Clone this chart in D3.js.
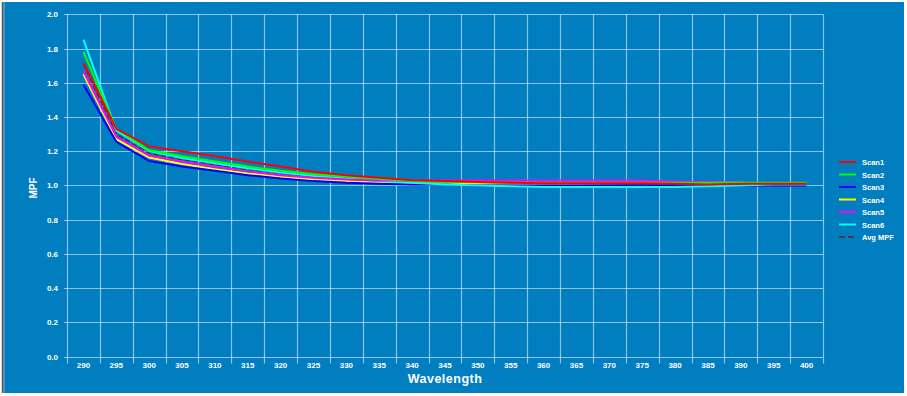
<!DOCTYPE html>
<html><head><meta charset="utf-8">
<script src="https://cdn.jsdelivr.net/npm/d3@7"></script>
<style>
html,body{margin:0;padding:0;background:#fff;}
svg{display:block;}
text{font-family:"Liberation Sans",Arial,sans-serif;font-weight:bold;fill:#fff;}
</style></head><body>
<svg id="c" width="907" height="396"></svg>
<script>
const wavelengths = [290,295,300,305,310,315,320,325,330,335,340,345,350,355,360,365,370,375,380,385,390,395,400];
const scan1 = [1.715,1.331,1.228,1.200,1.170,1.140,1.110,1.080,1.060,1.045,1.030,1.025,1.020,1.015,1.012,1.012,1.012,1.012,1.010,1.005,1.010,1.010,1.010];
const scan2 = [1.780,1.330,1.205,1.170,1.140,1.110,1.085,1.065,1.050,1.038,1.025,1.020,1.018,1.015,1.015,1.015,1.015,1.015,1.015,1.015,1.015,1.015,1.015];
const scan3 = [1.590,1.255,1.142,1.110,1.085,1.060,1.040,1.025,1.015,1.010,1.005,1.005,1.000,1.000,1.000,1.000,1.000,1.000,1.000,1.000,1.000,1.000,1.000];
const scan4 = [1.650,1.270,1.163,1.125,1.095,1.070,1.050,1.035,1.025,1.015,1.012,1.010,1.010,1.010,1.010,1.010,1.012,1.015,1.015,1.015,1.015,1.010,1.010];
const scan5 = [1.667,1.285,1.175,1.140,1.110,1.082,1.060,1.045,1.035,1.028,1.028,1.028,1.028,1.028,1.028,1.028,1.028,1.028,1.022,1.020,1.015,1.010,1.010];
const scan6 = [1.852,1.320,1.200,1.160,1.130,1.100,1.075,1.055,1.040,1.025,1.015,1.005,1.000,0.995,0.990,0.990,0.990,0.990,0.990,0.995,1.000,1.005,1.005];
const avgMPF = [1.709,1.299,1.186,1.151,1.122,1.094,1.070,1.051,1.038,1.027,1.019,1.015,1.012,1.010,1.008,1.008,1.009,1.009,1.009,1.008,1.009,1.009,1.009];
const yTicks = [0.0,0.2,0.4,0.6,0.8,1.0,1.2,1.4,1.6,1.8,2.0];
const seriesNames = ["Scan1","Scan2","Scan3","Scan4","Scan5","Scan6","Avg MPF"];
const seriesColors = ["#ff0000","#00ff00","#0000ff","#ffff00","#ff00ff","#00ffff","#404040"];
const seriesData = [scan1,scan2,scan3,scan4,scan5,scan6,avgMPF];
const drawOrder = [6,3,2,5,4,1,0];

const svg = d3.select("#c");
svg.append("rect").attr("x",3).attr("y",2).attr("width",901).attr("height",391).attr("fill","#017ec0");
svg.append("line").attr("x1",2.5).attr("x2",2.5).attr("y1",2).attr("y2",393).attr("stroke","#555").attr("stroke-width",1.5);
svg.append("line").attr("x1",4).attr("x2",4).attr("y1",2).attr("y2",393).attr("stroke","#9ab").attr("stroke-width",1);

const L = 67, R = 823, T = 14.3, B = 356.5;
const x = d3.scaleBand().domain(wavelengths).range([L,R]);
const y = d3.scaleLinear().domain([0,2]).range([B,T]);
const g = svg.append("g");
const gridC = "rgba(255,255,255,0.55)";

g.selectAll("line.h").data(yTicks).join("line")
  .attr("x1",64).attr("x2",R).attr("y1",d=>Math.round(y(d))+0.5).attr("y2",d=>Math.round(y(d))+0.5)
  .attr("stroke",gridC).attr("stroke-width",1.2);
const edges = wavelengths.map(w=>x(w)).concat([R]);
g.selectAll("line.v").data(edges).join("line")
  .attr("x1",d=>Math.round(d)+0.5).attr("x2",d=>Math.round(d)+0.5).attr("y1",T).attr("y2",B+7)
  .attr("stroke",gridC).attr("stroke-width",1.2);

g.selectAll("text.yt").data(yTicks).join("text")
  .attr("x",58).attr("y",d=>y(d)+3).attr("text-anchor","end").attr("font-size",8)
  .text(d=>d.toFixed(1));
g.selectAll("text.xt").data(wavelengths).join("text")
  .attr("x",d=>x(d)+x.bandwidth()/2).attr("y",368).attr("text-anchor","middle").attr("font-size",8)
  .text(d=>d);

svg.append("text").attr("x",445).attr("y",383).attr("text-anchor","middle").attr("font-size",12.5)
  .attr("letter-spacing",0.5).text("Wavelength");
svg.append("text").attr("transform","translate(37,188) rotate(-90)").attr("text-anchor","middle")
  .attr("font-size",10).text("MPF");

const line = d3.line().x((d,i)=>x(wavelengths[i])+x.bandwidth()/2).y(d=>y(d));
drawOrder.forEach(k=>{
  g.append("path").datum(seriesData[k]).attr("d",line).attr("fill","none")
    .attr("stroke",seriesColors[k]).attr("stroke-width",2)
    .attr("stroke-dasharray",k===6?"5,3":null);
});

const lg = svg.append("g");
seriesNames.forEach((n,k)=>{
  const yy = 162 + k*12.5;
  lg.append("line").attr("x1",839).attr("x2",856).attr("y1",yy).attr("y2",yy)
    .attr("stroke",seriesColors[k]).attr("stroke-width",2)
    .attr("stroke-dasharray",k===6?"6,3":null);
  lg.append("text").attr("x",862).attr("y",yy+3).attr("font-size",7.5).text(n);
});
</script>
</body></html>
